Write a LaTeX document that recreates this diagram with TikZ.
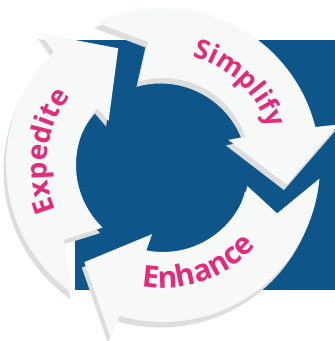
\documentclass[tikz,border=0pt]{standalone}
\usepackage{fontspec}
\setmainfont{Open Sans}
\usetikzlibrary{decorations.text}

\definecolor{cycleblue}{RGB}{14,86,138}
\definecolor{cyclepink}{RGB}{228,42,122}
\definecolor{facewhite}{RGB}{247,249,249}
\definecolor{sidegray}{RGB}{221,221,221}

\begin{document}
\begin{tikzpicture}[x=1pt,y=1pt,
                % one arrow of the cycle, #1 = angle of its tip
                cyclearrow/.style={insert path={
                  (#1+124:157) arc[start angle=#1+124, end angle=#1+23, radius=157]
                  -- (#1+22:180) -- (#1:125) -- (#1+30:70) -- (#1+28:87)
                  arc[start angle=#1+28, end angle=#1+115, radius=87]
                  -- (#1+106:124) -- cycle}},
                face/.style={fill=facewhite},
                side/.style={fill=sidegray,shift={(-2.5,-5.5)}},
                word/.style 2 args={decorate,decoration={text along path,text align=center,
                  text color=cyclepink,text={|\bfseries\fontsize{#1}{32}\selectfont|#2}}}]

\useasboundingbox (0,0) rectangle (335,341);

% blue panel
\fill[cycleblue] (75,51) rectangle (335,301);

\begin{scope}[shift={(163,176)}]

                    % sides
                    \path[side,cyclearrow=-9];   % Simplify
                    \path[side,cyclearrow=231];  % Enhance
                    \path[side,cyclearrow=111];  % Expedite

                    % faces
                    \path[face,cyclearrow=-9];   % Simplify
                    \path[face,cyclearrow=231];  % Enhance
                    \path[face,cyclearrow=111];  % Expedite

                    % words
                    \path[word={27}{Simplify}] (77:112) arc[start angle=77, end angle=17, radius=112];
                    \path[word={30}{Enhance}] (256:123) arc[start angle=256, end angle=323, radius=123];
                    \path[word={28}{Expedite}] (206:116) arc[start angle=206, end angle=140, radius=116];

\end{scope}

\end{tikzpicture}
\end{document}
